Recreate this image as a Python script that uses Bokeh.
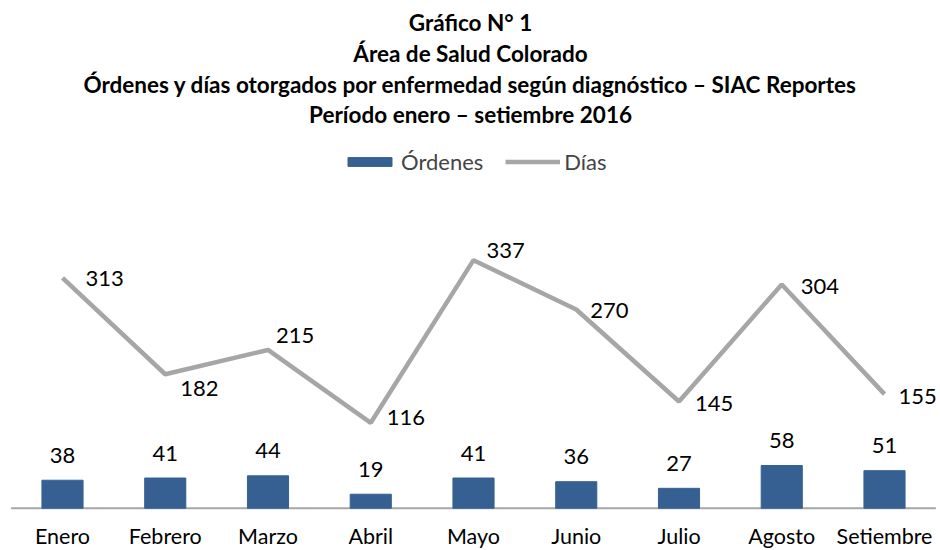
from bokeh.plotting import figure
from bokeh.models import Range1d, Label, Legend, LegendItem, ColumnDataSource
from bokeh.core.properties import value
from bokeh.embed import file_html
from bokeh.resources import INLINE

# ---- data ----
meses = ["Enero", "Febrero", "Marzo", "Abril", "Mayo", "Junio", "Julio", "Agosto", "Setiembre"]
ordenes = [38, 41, 44, 19, 41, 36, 27, 58, 51]
dias = [313, 182, 215, 116, 337, 270, 145, 304, 155]

titulos = [
    "Gráfico N° 1",
    "Área de Salud Colorado",
    "Órdenes y días otorgados por enfermedad según diagnóstico – SIAC Reportes",
    "Período enero – setiembre 2016",
]

# ---- styling / layout ----
FONT = "Lato"
BAR_COLOR = "#366092"
LINE_COLOR = "#A6A6A6"
AXIS_COLOR = "#A6A6A6"
W, H = 940, 550
X0_PX = 62.0          # pixel centre of first category
STEP_PX = 102.75      # pixels between categories
BASE_PX = 507.7       # pixel y of value 0
PX_PER_UNIT = 0.736   # pixels per value unit

# offsets of the line data labels (screen pixels; +y is down)
lbl_dx = [23, 15, 8, 16, 13, 14, 16, 19, 14]
lbl_dy = [1, 14, -14, -5, -10, 1, 2, 2, 2]

idx = list(range(len(meses)))
src = ColumnDataSource(dict(x=idx, ordenes=ordenes, dias=dias, mes=meses,
                            zero=[0] * len(meses),
                            o_lbl=[str(v) for v in ordenes],
                            d_lbl=[str(v) for v in dias],
                            dx=lbl_dx, dy=lbl_dy))

x_range = Range1d(-X0_PX / STEP_PX, (W - X0_PX) / STEP_PX)
y_range = Range1d(-(H - BASE_PX) / PX_PER_UNIT, BASE_PX / PX_PER_UNIT)

p = figure(width=W, height=H, output_backend="svg", toolbar_location=None,
           x_range=x_range, y_range=y_range,
           min_border_left=0, min_border_right=0, min_border_top=0,
           min_border_bottom=0)
p.outline_line_color = None
p.xgrid.visible = False
p.ygrid.visible = False
p.xaxis.visible = False
p.yaxis.visible = False
p.background_fill_color = "white"
p.border_fill_color = "white"

# category axis line
p.segment(x0=[-0.5], y0=[0], x1=[len(meses) - 0.5], y1=[0],
          line_color=AXIS_COLOR, line_width=2)

bars = p.vbar(x="x", top="ordenes", width=0.40, source=src,
              fill_color=BAR_COLOR, line_color=BAR_COLOR)
line = p.line(x="x", y="dias", source=src, line_color=LINE_COLOR, line_width=4.5)

# data labels
p.text(x="x", y="ordenes", text="o_lbl", source=src, y_offset=-25,
       text_align="center", text_baseline="middle",
       text_font=value(FONT), text_font_size="22px", text_color="black")
p.text(x="x", y="dias", text="d_lbl", source=src, x_offset="dx", y_offset="dy",
       text_align="left", text_baseline="middle",
       text_font=value(FONT), text_font_size="22px", text_color="black")

# category labels
p.text(x="x", y="zero", text="mes", source=src, y_offset=28,
       text_align="center", text_baseline="alphabetic",
       text_font=value(FONT), text_font_size="21.5px", text_color="black")

# titles (baseline pixel rows -> data y)
def page_y_to_data(py):
    return (BASE_PX - py) / PX_PER_UNIT

x_mid = (W / 2 - X0_PX) / STEP_PX
for t, py in zip(titulos, [22, 53, 84, 114]):
    p.add_layout(Label(x=x_mid, y=page_y_to_data(py), text=t, text_align="center",
                       text_baseline="alphabetic", text_font=FONT,
                       text_font_style="bold", text_font_size="22.5px",
                       text_color="black"))

legend = Legend(items=[LegendItem(label="Órdenes", renderers=[bars]),
                       LegendItem(label="Días", renderers=[line])],
                orientation="horizontal", location=(342, 375))
legend.glyph_width = 55
legend.glyph_height = 11
legend.label_text_font = FONT
legend.label_text_font_size = "22px"
legend.label_standoff = 4
legend.spacing = 22
legend.padding = 0
legend.margin = 0
legend.border_line_color = None
legend.background_fill_alpha = 0
p.add_layout(legend)

open("out.html", "w").write(file_html(p, INLINE))
